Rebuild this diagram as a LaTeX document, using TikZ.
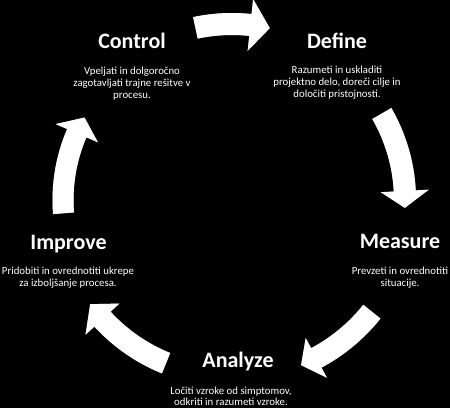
\documentclass[tikz,border=0pt]{standalone}
\usepackage{fontspec}
\setmainfont{Carlito}
\begin{document}
\begin{tikzpicture}[x=1pt,y=1pt,
  title/.style={text=white,font=\bfseries\fontsize{22}{26}\selectfont,anchor=base,inner sep=0pt},
  desc/.style={text=white,font=\fontsize{10.8}{12.3}\selectfont,anchor=base,align=center,inner sep=0pt},
  blockarrow/.style={fill=white},
  arrowshadow/.style={fill=white!55!black}]
\fill[black] (0,0) rectangle (450,-408);
\useasboundingbox (0,0) rectangle (450,-408);
\coordinate (C) at (232,-200);
% #1 R, #2 half body width, #3 half head width, #4 tail angle, #5 head base angle, #6 tip angle
\newcommand{\cyclearrow}[7]{%
  \path[#7,shift={(C)}]
    (#4:{#1+#2}) arc[start angle=#4,end angle=#5,radius={#1+#2}]
    -- (#5:{#1+#3}) -- (#6:#1) -- (#5:{#1-#3})
    -- (#5:{#1-#2}) arc[start angle=#5,end angle=#4,radius={#1-#2}] -- cycle;}
\begin{scope}[xshift=1.2pt,yshift=-1.2pt]
\cyclearrow{176}{11}{26}{102}{84}{77.6}{arrowshadow}
\cyclearrow{173}{11}{24}{30}{3}{-2.6}{arrowshadow}
\cyclearrow{179}{11}{22.5}{-38.6}{-61.9}{-67.3}{arrowshadow}
\cyclearrow{176}{11}{23}{-112}{-137.4}{-143.7}{arrowshadow}
\cyclearrow{169}{10.5}{23}{184.5}{156.7}{150.8}{arrowshadow}
\end{scope}
\cyclearrow{176}{11}{26}{102}{84}{77.6}{blockarrow}
\cyclearrow{173}{11}{24}{30}{3}{-2.6}{blockarrow}
\cyclearrow{179}{11}{22.5}{-38.6}{-61.9}{-67.3}{blockarrow}
\cyclearrow{176}{11}{23}{-112}{-137.4}{-143.7}{blockarrow}
\cyclearrow{169}{10.5}{23}{184.5}{156.7}{150.8}{blockarrow}

\node[title] (control) at (132,-48) {Control};
\node[desc] (controld) at (132,-98.6) {Vpeljati in dolgoročno\\zagotavljati trajne rešitve v\\procesu.};
\node[title] (define) at (337,-48) {Define};
\node[desc] (defined) at (337,-97.6) {Razumeti in uskladiti\\projektno delo, doreči cilje in\\določiti pristojnosti.};
\node[title] (measure) at (400,-248) {Measure};
\node[desc] (measured) at (400,-286.3) {Prevzeti in ovrednotiti\\situacije.};
\node[title] (improve) at (68.5,-249) {Improve};
\node[desc] (improved) at (68,-286.3) {Pridobiti in ovrednotiti ukrepe\\za izboljšanje procesa.};
\node[title] (analyze) at (238,-367) {Analyze};
\node[desc,font=\fontsize{10.8}{11.3}\selectfont] (analyzed) at (231,-405.3) {Ločiti vzroke od simptomov,\\odkriti in razumeti vzroke.};
\end{tikzpicture}
\end{document}
